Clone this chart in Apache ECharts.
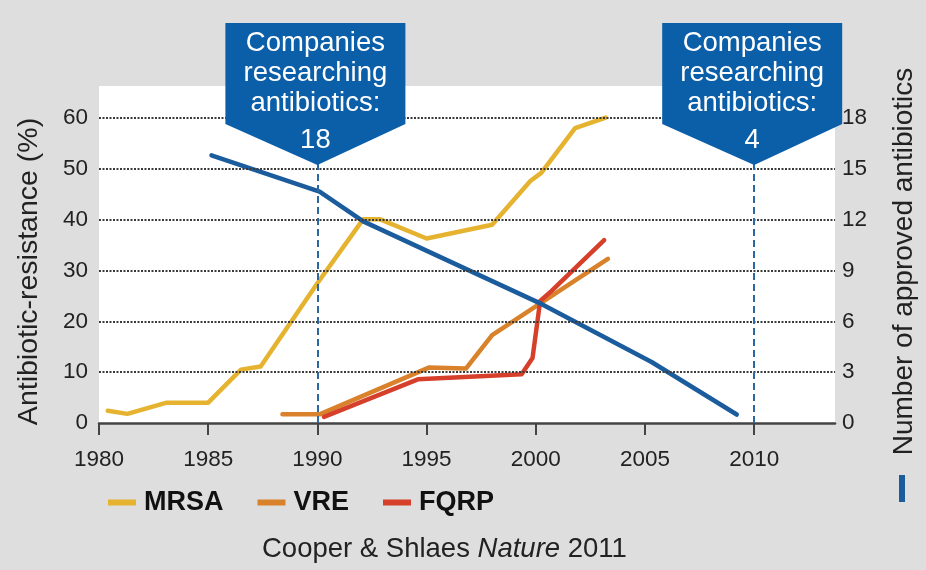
<!DOCTYPE html>
<html>
<head>
<meta charset="utf-8">
<title>Antibiotic resistance vs. approved antibiotics</title>
<script src="https://cdn.jsdelivr.net/npm/echarts@6/dist/echarts.min.js"></script>
<style>
  html, body { margin: 0; padding: 0; background: #dedede; }
  #chart { width: 926px; height: 570px; }
</style>
</head>
<body>
<div id="chart"></div>
<script>
// Resistance (%) by year, left axis
const mrsaYears  = [1980.4, 1981.3, 1983.1, 1985.0, 1986.5, 1987.4, 1990.0, 1992.1, 1992.85, 1995.0, 1998.0, 1999.75, 2000.25, 2001.8, 2003.2];
const mrsaValues = [2.4, 1.8, 4.0, 4.0, 10.5, 11.1, 27.5, 40.1, 40.1, 36.3, 39.0, 47.6, 49.2, 58.0, 60.1];

const vreYears  = [1988.4, 1990.1, 1995.1, 1996.8, 1998.0, 2003.3];
const vreValues = [1.7, 1.7, 10.9, 10.7, 17.3, 32.3];

const fqrpYears  = [1990.3, 1994.6, 1999.35, 1999.85, 2000.2, 2000.7, 2003.13];
const fqrpValues = [1.2, 8.6, 9.6, 12.8, 24.0, 25.9, 36.0];

// Number of newly approved antibiotics, right axis
const approvedYears  = [1985.15, 1990.1, 1992.1, 2000.3, 2005.3, 2009.2];
const approvedValues = [15.8, 13.65, 11.9, 7.0, 3.6, 0.5];

// Companies researching antibiotics, shown as callouts
const calloutYears = [1990, 2010];
const companies    = [18, 4];

// Axis ticks
const xTicks     = [1980, 1985, 1990, 1995, 2000, 2005, 2010];
const leftTicks  = [0, 10, 20, 30, 40, 50, 60];
const rightTicks = [0, 3, 6, 9, 12, 15, 18];

const FONT = "'Liberation Sans', Arial, Helvetica, sans-serif";
const pairs = (xs, ys) => xs.map((x, i) => [x, ys[i]]);

const LEFT_MAX = 66.3;
const RIGHT_MAX = LEFT_MAX * 0.3;

const chart = echarts.init(document.getElementById('chart'), null, { renderer: 'canvas' });

const lineBase = {
  type: 'line', showSymbol: false, symbol: 'none', z: 3,
  lineStyle: { width: 4.5, cap: 'round', join: 'round' },
  emphasis: { disabled: true }, animation: false
};

chart.setOption({
  backgroundColor: '#dedede',
  animation: false,
  textStyle: { fontFamily: FONT },
  grid: {
    left: 99, right: 90, top: 86, bottom: 147,
    show: true, backgroundColor: '#ffffff', borderWidth: 0
  },
  title: {
    left: 257, top: 530,
    text: '{a|Cooper & Shlaes }{i|Nature}{a| 2011}',
    textStyle: {
      fontWeight: 'normal',
      rich: {
        a: { fontSize: 27.5, color: '#222', fontFamily: FONT, fontWeight: 'normal' },
        i: { fontSize: 27.5, color: '#222', fontFamily: FONT, fontWeight: 'normal', fontStyle: 'italic' }
      }
    }
  },
  legend: [
    {
      data: ['MRSA', 'VRE', 'FQRP'],
      left: 103, top: 484,
      icon: 'rect', itemWidth: 28, itemHeight: 6, itemGap: 34,
      selectedMode: false,
      textStyle: { fontSize: 27, fontWeight: 'bold', color: '#111', fontFamily: FONT, padding: [0, 0, 0, 3] }
    },
    {
      data: ['Number of approved antibiotics'],
      left: 894, top: 470,
      icon: 'rect', itemWidth: 6, itemHeight: 27,
      selectedMode: false,
      formatter: () => ''
    }
  ],
  xAxis: {
    type: 'value', min: 1980, max: 2013.7, interval: 5,
    axisLine: { show: true, onZero: false, lineStyle: { color: '#444', width: 2.5 } },
    axisTick: { show: true, length: 12, customValues: xTicks, lineStyle: { color: '#444', width: 2 } },
    axisLabel: {
      customValues: xTicks, margin: 25, fontSize: 22.5, color: '#222', fontFamily: FONT,
      formatter: v => (v % 5 === 0 ? String(v) : '')
    },
    splitLine: { show: false }
  },
  yAxis: [
    {
      type: 'value', min: 0, max: LEFT_MAX, interval: 10, position: 'left',
      name: 'Antibiotic-resistance (%)', nameLocation: 'middle', nameGap: 55, nameRotate: 90,
      nameTextStyle: { fontSize: 28.5, color: '#222', fontFamily: FONT, padding: [0, 34, 0, 0] },
      axisLine: { show: false }, axisTick: { show: false },
      axisLabel: {
        customValues: leftTicks, margin: 11, fontSize: 22.5, color: '#222', fontFamily: FONT,
        formatter: v => (v <= 60 ? String(v) : '')
      },
      splitLine: { show: false }
    },
    {
      type: 'value', min: 0, max: RIGHT_MAX, interval: 3, position: 'right',
      name: 'Number of approved antibiotics', nameLocation: 'middle', nameGap: 55, nameRotate: 90,
      nameTextStyle: { fontSize: 28, color: '#222', fontFamily: FONT, padding: [0, 14, 0, 0] },
      axisLine: { show: false }, axisTick: { show: false },
      axisLabel: {
        customValues: rightTicks, margin: 7, fontSize: 22.5, color: '#222', fontFamily: FONT,
        formatter: v => (v <= 18 ? String(v) : '')
      },
      splitLine: { show: false }
    }
  ],
  series: [
    {
      // dotted reference lines and the two dashed year markers
      type: 'line', data: [], z: 1, silent: true,
      markLine: {
        silent: true, symbol: 'none', animation: false,
        label: { show: false },
        data: leftTicks.filter(v => v > 0).map(v => ({
          yAxis: v, lineStyle: { type: [2, 1.5], width: 2, color: '#3a3a3a' }
        })).concat(calloutYears.map(yr => ({
          xAxis: yr, lineStyle: { type: [7, 4], width: 2, color: '#2a67a3' }
        })))
      }
    },
    Object.assign({}, lineBase, { name: 'MRSA', data: pairs(mrsaYears, mrsaValues), color: '#e5b32f' }),
    Object.assign({}, lineBase, { name: 'VRE', data: pairs(vreYears, vreValues), color: '#d9822b' }),
    Object.assign({}, lineBase, { name: 'FQRP', data: pairs(fqrpYears, fqrpValues), color: '#d6402b' }),
    Object.assign({}, lineBase, {
      name: 'Number of approved antibiotics', yAxisIndex: 1,
      data: pairs(approvedYears, approvedValues), color: '#1a5c9c'
    })
  ]
});

// Callout boxes above the dashed year markers
function drawCallouts() {
  const g = [];
  calloutYears.forEach((yr, i) => {
    const px = chart.convertToPixel({ xAxisIndex: 0 }, yr);
    g.push({
      type: 'polygon', z: 10, silent: true,
      shape: { points: [[px - 92, 23], [px + 88, 23], [px + 88, 124], [px, 165], [px - 92, 124]] },
      style: { fill: '#0b5ea8' }
    });
    g.push({
      type: 'text', z: 11, silent: true, x: px - 2, y: 28,
      style: {
        text: 'Companies\nresearching\nantibiotics:', fill: '#ffffff',
        font: '27.5px ' + FONT, align: 'center', verticalAlign: 'top', lineHeight: 30
      }
    });
    g.push({
      type: 'text', z: 11, silent: true, x: px - 2, y: 125,
      style: {
        text: String(companies[i]), fill: '#ffffff',
        font: '27.5px ' + FONT, align: 'center', verticalAlign: 'top', lineHeight: 30
      }
    });
  });
  chart.setOption({ graphic: g });
}
drawCallouts();
</script>
</body>
</html>
